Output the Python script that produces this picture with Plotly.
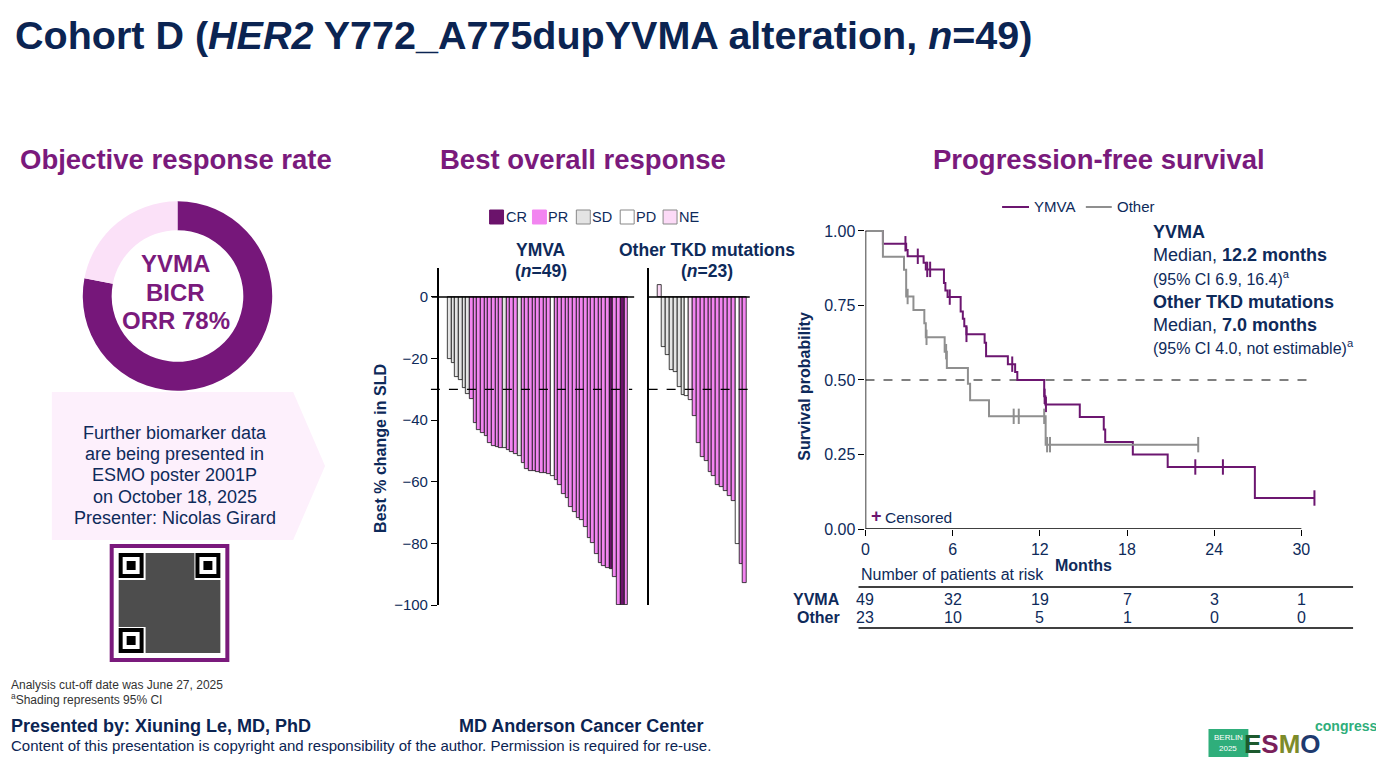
import plotly.graph_objects as go

# ---------------- data ----------------
orr_labels = ["Responders", "Non-responders"]
orr_values = [78, 22]

ymva_change = [-20.2, -21.3, -26.0, -27.0, -29.6, -31.5, -33.0, -41.0, -43.3, -44.3,
               -45.0, -47.5, -48.5, -48.7, -48.9, -49.0, -49.8, -50.3, -50.9, -51.6,
               -53.8, -56.0, -56.4, -56.6, -56.8, -57.0, -57.3, -57.6, -58.0, -59.5,
               -61.1, -64.1, -65.4, -68.3, -69.9, -71.8, -72.4, -74.8, -78.4, -79.8,
               -83.5, -86.3, -87.4, -88.0, -88.4, -91.0, -100.0, -100.0, -100.0]
ymva_resp = ["SD", "SD", "SD", "SD", "SD", "SD", "PR", "PR", "PR", "PR",
             "PR", "PR", "PR", "PR", "PR", "SD", "PR", "PR", "PR", "SD",
             "PR", "PR", "PR", "PR", "PR", "PR", "PR", "PR", "PD", "PR",
             "PR", "PR", "PR", "PR", "PR", "PR", "PR", "PR", "PR", "PR",
             "PR", "PR", "PR", "PR", "CR", "PR", "PR", "CR", "PR"]

other_change = [4.0, -16.2, -18.8, -23.8, -24.3, -29.2, -31.8, -32.3, -33.5, -38.7,
                -47.4, -52.0, -53.2, -56.8, -58.2, -61.1, -61.7, -63.1, -64.7, -66.2,
                -80.1, -86.8, -92.9]
other_resp = ["NE", "SD", "SD", "SD", "SD", "SD", "SD", "PD", "NE", "PR",
              "PR", "PR", "PR", "PR", "PR", "PR", "PR", "PR", "PR", "PR",
              "PD", "PR", "PR"]

resp_cats = ["CR", "PR", "SD", "PD", "NE"]
wf_ticks = [0, -20, -40, -60, -80, -100]

ymva_t = [0, 1.2, 2.8, 2.9, 4.0, 4.15, 5.4, 5.5, 5.65, 6.55, 6.7, 6.8, 6.95, 8.2, 8.3,
          9.8, 10.3, 10.45, 12.3, 12.38, 14.75, 16.4, 16.5, 18.4, 20.8, 26.8]
ymva_s = [1.0, 0.957, 0.936, 0.915, 0.893, 0.871, 0.825, 0.80, 0.778, 0.73, 0.705, 0.68,
          0.653, 0.625, 0.58, 0.553, 0.527, 0.50, 0.445, 0.418, 0.376, 0.334, 0.292,
          0.25, 0.208, 0.104]
ymva_end = 30.9
ymva_cens_t = [2.75, 3.6, 4.25, 4.45, 5.8, 6.95, 10.1, 12.33, 12.42, 22.7, 24.6, 30.9]
ymva_cens_s = [0.957, 0.915, 0.871, 0.871, 0.778, 0.653, 0.553, 0.445, 0.418, 0.208, 0.208, 0.104]

other_t = [0, 1.2, 2.65, 2.8, 3.3, 4.05, 4.15, 5.45, 5.6, 7.05, 7.2, 8.5, 12.4]
other_s = [1.0, 0.913, 0.87, 0.78, 0.735, 0.69, 0.643, 0.595, 0.54, 0.487, 0.432, 0.378, 0.283]
other_end = 22.9
other_cens_t = [2.9, 4.2, 5.55, 10.2, 10.55, 12.3, 12.5, 12.7, 22.9]
other_cens_s = [0.78, 0.643, 0.595, 0.378, 0.378, 0.378, 0.283, 0.283, 0.283]

km_xticks = [0, 6, 12, 18, 24, 30]
km_yticks = [0, 0.25, 0.5, 0.75, 1.0]
km_yticktext = ["0.00", "0.25", "0.50", "0.75", "1.00"]
risk_months = [0, 6, 12, 18, 24, 30]
risk_ymva = [49, 32, 19, 7, 3, 1]
risk_other = [23, 10, 5, 1, 0, 0]

# ---------------- style ----------------
W, H = 1376, 775
HR = 766.0  # effective rendered height observed in the viewer
FONT = "Liberation Sans, Arial, sans-serif"
NARROW = "Liberation Sans Narrow, Liberation Sans, Arial, sans-serif"
NAVY = "#0e2a5a"
TITLE_NAVY = "#0b2452"
PURPLE = "#7a1a7c"
DONUT_DARK = "#76177a"
DONUT_LIGHT = "#fbe1f8"
COL = {"CR": "#6b136b", "PR": "#f285f0", "SD": "#e4e4e4", "PD": "#ffffff", "NE": "#fcdaf7"}
KM_Y = "#6c1670"
KM_O = "#8f8f8f"


def X(p):
    return p / W


def Y(p):
    return 1 - p / HR


fig = go.Figure()

# donut
fig.add_trace(go.Pie(values=orr_values, labels=orr_labels, hole=0.695, sort=False,
                     direction="clockwise", rotation=0, textinfo="none", hoverinfo="skip",
                     showlegend=False,
                     marker=dict(colors=[DONUT_DARK, DONUT_LIGHT], line=dict(width=0)),
                     domain=dict(x=[X(79), X(269)], y=[Y(391), Y(201)])))

# waterfall bars
fig.add_trace(go.Bar(x=list(range(len(ymva_change))), y=ymva_change, width=1.0,
                     marker=dict(color=[COL[r] for r in ymva_resp], line=dict(color="#111111", width=0.8)),
                     xaxis="x", yaxis="y", showlegend=False, hoverinfo="y"))
fig.add_trace(go.Bar(x=list(range(len(other_change))), y=other_change, width=1.0,
                     marker=dict(color=[COL[r] for r in other_resp], line=dict(color="#111111", width=0.8)),
                     xaxis="x2", yaxis="y2", showlegend=False, hoverinfo="y"))

# KM curves
fig.add_trace(go.Scatter(x=ymva_t + [ymva_end], y=ymva_s + [ymva_s[-1]], mode="lines",
                         line=dict(color=KM_Y, width=2, shape="hv"), xaxis="x3", yaxis="y3",
                         showlegend=False, cliponaxis=False))
fig.add_trace(go.Scatter(x=other_t + [other_end], y=other_s + [other_s[-1]], mode="lines",
                         line=dict(color=KM_O, width=2, shape="hv"), xaxis="x3", yaxis="y3",
                         showlegend=False, cliponaxis=False))
fig.add_trace(go.Scatter(x=ymva_cens_t, y=ymva_cens_s, mode="markers",
                         marker=dict(symbol="line-ns-open", size=11, color=KM_Y, line=dict(color=KM_Y, width=2)),
                         xaxis="x3", yaxis="y3", showlegend=False, cliponaxis=False))
fig.add_trace(go.Scatter(x=other_cens_t, y=other_cens_s, mode="markers",
                         marker=dict(symbol="line-ns-open", size=11, color=KM_O, line=dict(color=KM_O, width=2)),
                         xaxis="x3", yaxis="y3", showlegend=False, cliponaxis=False))

hidden_x = dict(showgrid=False, zeroline=False, showticklabels=False, ticks="", showline=False)

fig.update_layout(
    width=W, height=H, margin=dict(l=0, r=0, t=0, b=0),
    paper_bgcolor="white", plot_bgcolor="rgba(0,0,0,0)",
    font=dict(family=FONT, color=NAVY),
    bargap=0,
    xaxis=dict(domain=[X(436), X(632)], range=[-2.94, 50.2], anchor="y", **hidden_x),
    yaxis=dict(domain=[Y(605), Y(268)], range=[-100, 9.4], anchor="x", tickvals=wf_ticks,
               ticks="outside", ticklen=6, tickcolor="black", tickwidth=1.2,
               showline=True, linecolor="black", linewidth=1.5, showgrid=False, zeroline=False,
               tickfont=dict(size=15, color=NAVY)),
    xaxis2=dict(domain=[X(646.5), X(750)], range=[-2.95, 23.79], anchor="y2", **hidden_x),
    yaxis2=dict(domain=[Y(605), Y(268)], range=[-100, 9.4], anchor="x2", showticklabels=False,
                ticks="", showline=True, linecolor="black", linewidth=1.5, showgrid=False,
                zeroline=False),
    xaxis3=dict(domain=[X(864), X(1323)], range=[0, 31.5], anchor="y3", tickvals=km_xticks,
                ticks="outside", ticklen=6, tickcolor="black", tickwidth=1.2, showline=False,
                showgrid=False, zeroline=False, tickfont=dict(size=16, color=NAVY)),
    yaxis3=dict(domain=[Y(529), Y(222)], range=[0, 1.03], anchor="x3", tickvals=km_yticks,
                ticktext=km_yticktext, ticks="outside", ticklen=6, tickcolor="black",
                tickwidth=1.2, showline=False, showgrid=False, zeroline=False,
                tickfont=dict(size=16, color=NAVY)),
)

shapes = []
# waterfall reference lines
shapes.append(dict(type="line", xref="x domain", yref="y", x0=-0.035, x1=1.0, y0=0, y1=0,
                   line=dict(color="black", width=1.5)))
shapes.append(dict(type="line", xref="x domain", yref="y", x0=-0.04, x1=0.99, y0=-30, y1=-30,
                   line=dict(color="black", width=1.2, dash="dash")))
shapes.append(dict(type="line", xref="x2 domain", yref="y2", x0=0, x1=0.98, y0=0, y1=0,
                   line=dict(color="black", width=1.5)))
shapes.append(dict(type="line", xref="x2 domain", yref="y2", x0=0, x1=0.98, y0=-30, y1=-30,
                   line=dict(color="black", width=1.2, dash="dash")))
# KM axes and median line
shapes.append(dict(type="line", xref="x3", yref="y3", x0=0, x1=30, y0=0, y1=0,
                   line=dict(color="black", width=1.5)))
shapes.append(dict(type="line", xref="x3", yref="y3", x0=0, x1=0, y0=0, y1=1.0,
                   line=dict(color="black", width=1.5)))
shapes.append(dict(type="line", xref="x3", yref="y3", x0=0, x1=30.65, y0=0.5, y1=0.5,
                   line=dict(color="black", width=1.1, dash="dash"), layer="below"))

# arrow call-out box
path = "M {} {} L {} {} L {} {} L {} {} L {} {} Z".format(
    X(48), Y(392), X(290), Y(392), X(322), Y(466), X(290), Y(540), X(48), Y(540))
shapes.append(dict(type="path", xref="paper", yref="paper", path=path,
                   fillcolor="#fdf0fc", line=dict(width=0), layer="below"))

# QR code placeholder
shapes.append(dict(type="rect", xref="paper", yref="paper", x0=X(108), x1=X(224), y0=Y(660), y1=Y(546),
                   fillcolor="white", line=dict(color=PURPLE, width=4)))
shapes.append(dict(type="rect", xref="paper", yref="paper", x0=X(115), x1=X(217), y0=Y(653), y1=Y(553),
                   fillcolor="#4d4d4d", line=dict(width=0)))
for (fx, fy) in [(115, 553), (192, 553), (115, 628)]:
    shapes.append(dict(type="rect", xref="paper", yref="paper", x0=X(fx - 1), x1=X(fx + 27), y0=Y(fy + 27), y1=Y(fy - 1),
                       fillcolor="white", line=dict(width=0)))
    shapes.append(dict(type="rect", xref="paper", yref="paper", x0=X(fx), x1=X(fx + 25), y0=Y(fy + 25), y1=Y(fy),
                       fillcolor="black", line=dict(width=0)))
    shapes.append(dict(type="rect", xref="paper", yref="paper", x0=X(fx + 4), x1=X(fx + 21), y0=Y(fy + 21), y1=Y(fy + 4),
                       fillcolor="white", line=dict(width=0)))
    shapes.append(dict(type="rect", xref="paper", yref="paper", x0=X(fx + 8), x1=X(fx + 17), y0=Y(fy + 17), y1=Y(fy + 8),
                       fillcolor="black", line=dict(width=0)))

# waterfall legend squares
legend_sq = {"CR": 487, "PR": 530, "SD": 574, "PD": 618, "NE": 661}
for cat in resp_cats:
    x0 = legend_sq[cat]
    shapes.append(dict(type="rect", xref="paper", yref="paper", x0=X(x0), x1=X(x0 + 14),
                       y0=Y(224), y1=Y(210), fillcolor=COL[cat],
                       line=dict(color="#888888" if cat in ("SD", "PD", "NE") else COL[cat], width=1)))

# KM legend lines
shapes.append(dict(type="line", xref="paper", yref="paper", x0=X(1001), x1=X(1028), y0=Y(207), y1=Y(207),
                   line=dict(color=KM_Y, width=2)))
shapes.append(dict(type="line", xref="paper", yref="paper", x0=X(1085), x1=X(1111), y0=Y(207), y1=Y(207),
                   line=dict(color=KM_O, width=2)))

# risk table rules
shapes.append(dict(type="line", xref="paper", yref="paper", x0=X(857), x1=X(1353), y0=Y(587), y1=Y(587),
                   line=dict(color="black", width=1.5)))
shapes.append(dict(type="line", xref="paper", yref="paper", x0=X(857), x1=X(1353), y0=Y(628), y1=Y(628),
                   line=dict(color="black", width=1.5)))

# ESMO logo box
shapes.append(dict(type="rect", xref="paper", yref="paper", x0=X(1208), x1=X(1248), y0=Y(757), y1=Y(729),
                   fillcolor="#2fae7b", line=dict(width=0)))

fig.update_layout(shapes=shapes)


def txt(s, x, y, size=14, color=NAVY, anchor="left", family=FONT, angle=0):
    fig.add_annotation(text=s, x=X(x), y=Y(y), xref="paper", yref="paper", xanchor=anchor,
                       yanchor="middle", showarrow=False, textangle=angle, borderpad=0,
                       font=dict(size=size, color=color, family=family))


# title
txt("<b>Cohort D (<i>HER2</i> Y772_A775dupYVMA alteration, <i>n</i>=49)</b>", 10, 35, size=39.5, color=TITLE_NAVY)

# section headers
txt("<b>Objective response rate</b>", 172, 160, size=27.5, color=PURPLE, anchor="center")
txt("<b>Best overall response</b>", 581, 160, size=27.5, color=PURPLE, anchor="center")
txt("<b>Progression-free survival</b>", 1098, 160, size=27.5, color=PURPLE, anchor="center")

# donut centre
txt("<b>YVMA</b>", 172, 263, size=24, color=PURPLE, anchor="center")
txt("<b>BICR</b>", 172, 292, size=24, color=PURPLE, anchor="center")
txt("<b>ORR 78%</b>", 172, 321, size=24, color=PURPLE, anchor="center")

# call-out text
for i, line in enumerate(["Further biomarker data", "are being presented in", "ESMO poster 2001P",
                          "on October 18, 2025", "Presenter: Nicolas Girard"]):
    txt(line, 171, 433 + i * 21.2, size=18, anchor="center")

# waterfall legend text
for cat in resp_cats:
    txt(cat, legend_sq[cat] + 15, 217, size=14.5)

txt("<b>YMVA</b>", 539, 250, size=17.5, anchor="center")
txt("<b>(<i>n</i>=49)</b>", 539, 271, size=17.5, anchor="center")
txt("<b>Other TKD mutations</b>", 705, 250, size=17.5, anchor="center")
txt("<b>(<i>n</i>=23)</b>", 705, 271, size=17.5, anchor="center")
txt("<b>Best % change in SLD</b>", 377, 448, size=16, anchor="center", angle=-90)

# KM texts
txt("YMVA", 1032, 207, size=15)
txt("Other", 1115, 207, size=15)
txt("<b>Survival probability</b>", 802, 386, size=16, anchor="center", angle=-90)
txt("<b>Months</b>", 1083, 565, size=16, anchor="center")
txt("<b>YVMA</b>", 1151, 232, size=18)
txt("Median, <b>12.2 months</b>", 1151, 255, size=18)
txt("(95% CI 6.9, 16.4)<sup>a</sup>", 1151, 278, size=16)
txt("<b>Other TKD mutations</b>", 1151, 302, size=18)
txt("Median, <b>7.0 months</b>", 1151, 325, size=18)
txt("(95% CI 4.0, not estimable)<sup>a</sup>", 1151, 347, size=16)
txt("<b>+</b>", 869, 516, size=18, color=KM_Y)
txt("Censored", 883, 517, size=15.5)

# risk table
txt("Number of patients at risk", 858, 574, size=16)
txt("<b>YVMA</b>", 839, 599, size=16, anchor="right")
txt("<b>Other</b>", 839, 617, size=16, anchor="right")
for m, a, b in zip(risk_months, risk_ymva, risk_other):
    for val, py in ((a, 599), (b, 617)):
        fig.add_annotation(text=str(val), x=m, xref="x3", y=Y(py), yref="paper",
                           xanchor="center", yanchor="middle", showarrow=False, borderpad=0,
                           font=dict(size=16, color=NAVY, family=FONT))

# footer
txt("Analysis cut-off date was June 27, 2025", 6, 685, size=12, color="#333333", family=NARROW)
txt("<sup>a</sup>Shading represents 95% CI", 6, 699, size=12, color="#333333", family=NARROW)
txt("<b>Presented by: Xiuning Le, MD, PhD</b>", 6, 726, size=18, color=TITLE_NAVY)
txt("<b>MD Anderson Cancer Center</b>", 702, 726, size=18, color=TITLE_NAVY, anchor="right")
txt("Content of this presentation is copyright and responsibility of the author. Permission is required for re-use.",
    6, 745, size=15, color=TITLE_NAVY, family=NARROW)

# ESMO logo text
txt("BERLIN", 1228, 737, size=8, color="white", anchor="center", family=NARROW)
txt("2025", 1228, 748, size=8, color="white", anchor="center", family=NARROW)
txt("<b><span style='color:#1d5a2e'>E</span><span style='color:#7a1f5a'>S</span>"
    "<span style='color:#7d8b2a'>M</span><span style='color:#1f3a6e'>O</span></b>",
    1282, 744, size=26, anchor="center", family=NARROW)
txt("<b>congress</b>", 1346, 726, size=14, color="#2fae7b", anchor="center", family=NARROW)

fig.write_html("out.html",
               config={"displayModeBar": False},
               post_script="document.body.style.margin='0px';document.body.style.padding='0px';"
                           "document.documentElement.style.overflow='hidden';")
